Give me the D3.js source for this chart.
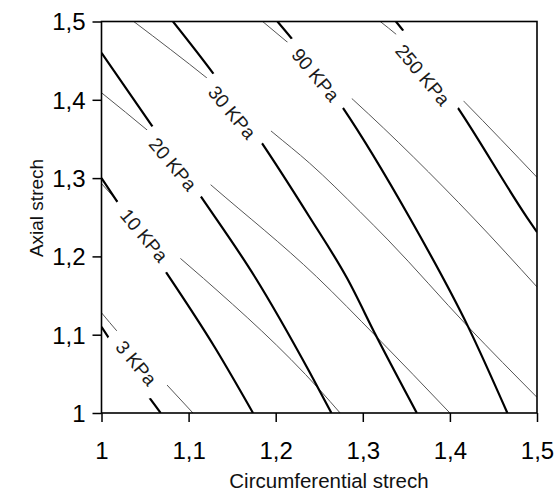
<!DOCTYPE html>
<html>
<head>
<meta charset="utf-8">
<script src="https://cdn.jsdelivr.net/npm/d3@7"></script>
<style>
  body { margin: 0; background: #fff; }
  svg { display: block; font-family: "Liberation Sans", Arial, sans-serif; }
</style>
</head>
<body>
<div id="chart"></div>
<script>
// contour levels, KPa
var levels = [3, 10, 20, 30, 90, 250];

// thin contours: one list of [circumferential, axial] stretch points per level
var thinContours = [
  [[1.000, 1.128], [1.019, 1.103], [1.075, 1.036], [1.105, 1.000]],
  [[1.000, 1.293], [1.013, 1.277], [1.090, 1.198], [1.117, 1.172], [1.251, 1.029], [1.274, 1.000]],
  [[1.000, 1.409], [1.055, 1.359], [1.128, 1.289], [1.247, 1.174], [1.316, 1.097], [1.400, 1.000]],
  [[1.037, 1.500], [1.122, 1.427], [1.197, 1.358], [1.239, 1.319], [1.297, 1.257], [1.329, 1.221], [1.421, 1.110], [1.500, 1.020]],
  [[1.185, 1.500], [1.213, 1.474], [1.289, 1.400], [1.427, 1.249], [1.500, 1.161]],
  [[1.320, 1.500], [1.339, 1.483], [1.417, 1.397], [1.500, 1.301]]
];

// thick contours, same levels
var thickContours = [
  [[1.000, 1.110], [1.010, 1.093], [1.052, 1.024], [1.068, 1.000]],
  [[1.000, 1.300], [1.018, 1.270], [1.074, 1.180], [1.130, 1.084], [1.174, 1.000]],
  [[1.000, 1.460], [1.059, 1.365], [1.115, 1.275], [1.176, 1.174], [1.239, 1.052], [1.264, 1.000]],
  [[1.082, 1.500], [1.128, 1.434], [1.184, 1.345], [1.239, 1.250], [1.282, 1.172], [1.316, 1.097], [1.362, 1.000]],
  [[1.202, 1.500], [1.220, 1.476], [1.277, 1.390], [1.354, 1.249], [1.421, 1.110], [1.466, 1.000]],
  [[1.338, 1.500], [1.346, 1.489], [1.409, 1.390], [1.489, 1.249], [1.500, 1.231]]
];

// label spot for each level
var labelX = [1.040, 1.049, 1.082, 1.150, 1.246, 1.369];
var labelY = [1.064, 1.227, 1.318, 1.384, 1.432, 1.432];

var xTicks = [1, 1.1, 1.2, 1.3, 1.4, 1.5];
var yTicks = [1, 1.1, 1.2, 1.3, 1.4, 1.5];

var svgWidth = 555;
var svgHeight = 493;

var margin = {
  top: 21.5,
  right: 18,
  bottom: 80,
  left: 101.5
};

var width = svgWidth - margin.left - margin.right;
var height = svgHeight - margin.top - margin.bottom;

var svg = d3.select("#chart")
  .append("svg")
  .attr("width", svgWidth)
  .attr("height", svgHeight);

var chartGroup = svg.append("g")
  .attr("transform", `translate(${margin.left}, ${margin.top})`);

var x = d3.scaleLinear().domain([1, 1.5]).range([0, width]);
var y = d3.scaleLinear().domain([1, 1.5]).range([height, 0]);

// comma decimals
var fmt = d3.formatLocale({ decimal: ",", thousands: ".", grouping: [3], currency: ["", ""] }).format(".1~f");

var defs = svg.append("defs");

defs.append("clipPath")
  .attr("id", "plotClip")
  .append("rect")
  .attr("width", width)
  .attr("height", height);

// mask that cuts the contour lines where the labels sit
var mask = defs.append("mask")
  .attr("id", "labelGaps")
  .attr("maskUnits", "userSpaceOnUse")
  .attr("x", -margin.left).attr("y", -margin.top)
  .attr("width", svgWidth).attr("height", svgHeight);

mask.append("rect")
  .attr("x", -margin.left).attr("y", -margin.top)
  .attr("width", svgWidth).attr("height", svgHeight)
  .attr("fill", "#fff");

var line = d3.line()
  .x(function(d) { return x(d[0]); })
  .y(function(d) { return y(d[1]); })
  .curve(d3.curveMonotoneX);

var lineGroup = chartGroup.append("g")
  .attr("clip-path", "url(#plotClip)")
  .append("g")
  .attr("mask", "url(#labelGaps)");

lineGroup.selectAll(".thin")
  .data(thinContours)
  .enter()
  .append("path")
  .attr("class", "thin")
  .attr("d", line)
  .attr("fill", "none")
  .attr("stroke", "#555")
  .attr("stroke-width", 1);

lineGroup.selectAll(".thick")
  .data(thickContours)
  .enter()
  .append("path")
  .attr("class", "thick")
  .attr("d", line)
  .attr("fill", "none")
  .attr("stroke", "#000")
  .attr("stroke-width", 2.2);

// contour labels
var labels = chartGroup.selectAll(".clabel")
  .data(levels)
  .enter()
  .append("text")
  .attr("class", "clabel")
  .attr("transform", function(d, i) {
    return "translate(" + x(labelX[i]) + "," + y(labelY[i]) + ") rotate(50)";
  })
  .attr("text-anchor", "middle")
  .attr("dy", "0.36em")
  .attr("font-size", 19)
  .attr("fill", "#1a1a1a")
  .text(function(d) { return d + " KPa"; });

labels.each(function(d, i) {
  var len = this.getComputedTextLength();
  mask.append("circle")
    .attr("cx", x(labelX[i]))
    .attr("cy", y(labelY[i]))
    .attr("r", len / 2 + 12)
    .attr("fill", "#000");
});

// axes
var xAxis = d3.axisBottom(x)
  .tickValues(xTicks)
  .tickSize(9)
  .tickSizeOuter(0)
  .tickPadding(20)
  .tickFormat(fmt);

var yAxis = d3.axisLeft(y)
  .tickValues(yTicks)
  .tickSize(9)
  .tickSizeOuter(0)
  .tickPadding(7)
  .tickFormat(fmt);

var gx = chartGroup.append("g")
  .attr("transform", `translate(0, ${height})`)
  .call(xAxis);

var gy = chartGroup.append("g")
  .call(yAxis);

[gx, gy].forEach(function(g) {
  g.select(".domain").remove();
  g.selectAll(".tick line").attr("stroke", "#000").attr("stroke-width", 1.5);
  g.selectAll(".tick text")
    .attr("font-size", 24)
    .attr("font-family", "Liberation Sans, Arial, sans-serif")
    .attr("fill", "#000");
});
gy.selectAll(".tick text").attr("dy", "0.35em");

// frame
chartGroup.append("rect")
  .attr("width", width)
  .attr("height", height)
  .attr("fill", "none")
  .attr("stroke", "#000")
  .attr("stroke-width", 1.6);

// axis titles
svg.append("text")
  .attr("x", 329)
  .attr("y", 488)
  .attr("text-anchor", "middle")
  .attr("font-size", 20.5)
  .attr("fill", "#111")
  .text("Circumferential strech");

svg.append("text")
  .attr("transform", "translate(43, 208) rotate(-90)")
  .attr("text-anchor", "middle")
  .attr("font-size", 19)
  .attr("fill", "#111")
  .text("Axial strech");
</script>
</body>
</html>
